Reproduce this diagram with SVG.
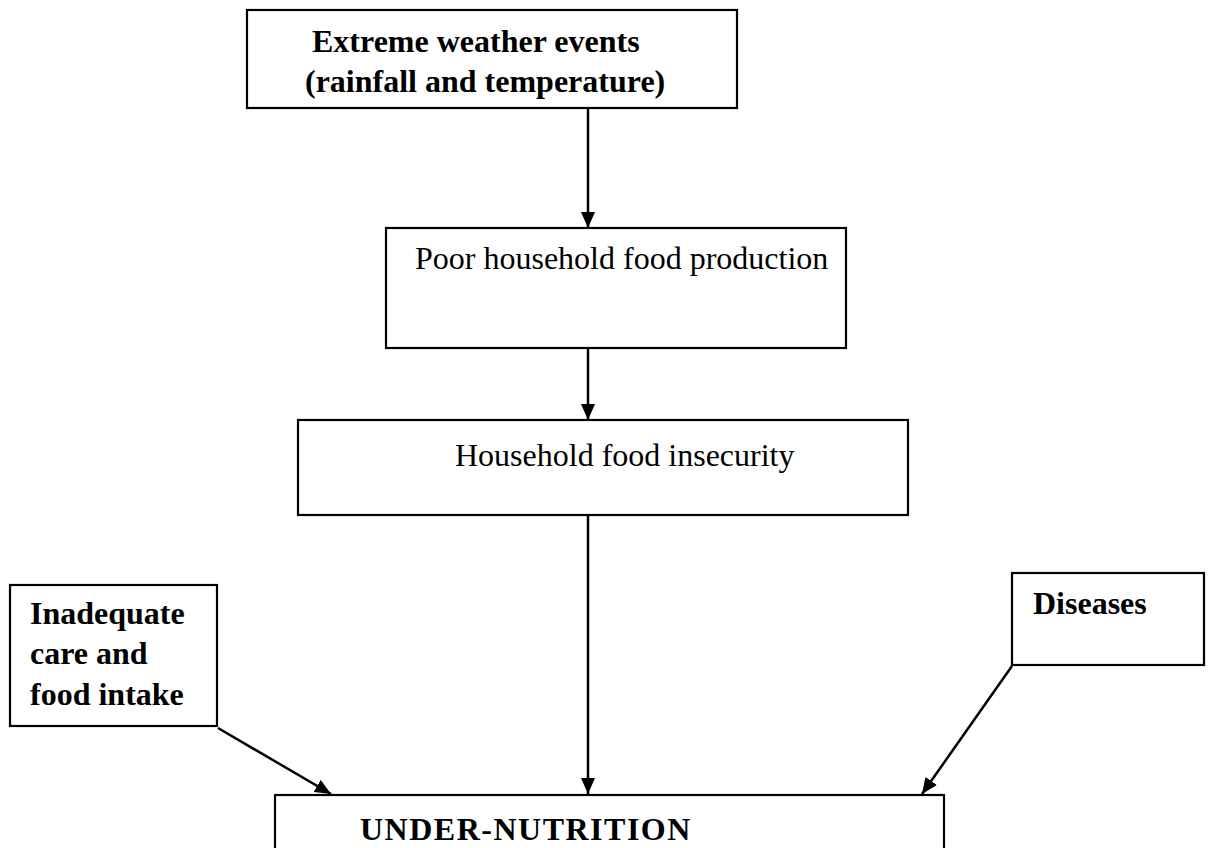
<svg xmlns="http://www.w3.org/2000/svg" width="1208" height="848" viewBox="0 0 1208 848">
<defs>
<marker id="ah" viewBox="0 0 16 14" refX="16" refY="7" markerWidth="16" markerHeight="14" markerUnits="userSpaceOnUse" orient="auto">
<path d="M0,0 L16,7 L0,14 Z" fill="#000"/>
</marker>
<style>
.box{fill:#fff;stroke:#000;stroke-width:2.2}
.t{font-family:"Liberation Serif","Times New Roman",serif;font-size:32px;fill:#000}
.b{font-weight:bold}
.c{stroke:#000;stroke-width:2.5;fill:none;marker-end:url(#ah)}
</style>
</defs>
<rect width="1208" height="848" fill="#fff"/>
<g id="connectors">
<line class="c" x1="588" y1="109" x2="588" y2="228"/>
<line class="c" x1="588" y1="349" x2="588" y2="420"/>
<line class="c" x1="588" y1="516" x2="588" y2="794"/>
<line class="c" x1="218" y1="728" x2="331" y2="794"/>
<line class="c" x1="1012" y1="666" x2="922" y2="794"/>
</g>
<g id="n-weather">
<rect class="box" x="247" y="10" width="490" height="98"/>
<text class="t b" x="312" y="52">Extreme weather events</text>
<text class="t b" x="305" y="92">(rainfall and temperature)</text>
</g>
<g id="n-production">
<rect class="box" x="386" y="228" width="460" height="120"/>
<text class="t" x="415" y="269">Poor household food production</text>
</g>
<g id="n-insecurity">
<rect class="box" x="298" y="420" width="610" height="95"/>
<text class="t" x="455" y="466">Household food insecurity</text>
</g>
<g id="n-care">
<rect class="box" x="10" y="585" width="207" height="141"/>
<text class="t b" x="30" y="624">Inadequate</text>
<text class="t b" x="30" y="664">care and</text>
<text class="t b" x="30" y="705">food intake</text>
</g>
<g id="n-diseases">
<rect class="box" x="1012" y="573" width="192" height="92"/>
<text class="t b" x="1033" y="614">Diseases</text>
</g>
<g id="n-undernutrition">
<rect class="box" x="275" y="795" width="669" height="70"/>
<text class="t b" x="360" y="840" style="letter-spacing:1.5px">UNDER-NUTRITION</text>
</g>
</svg>
